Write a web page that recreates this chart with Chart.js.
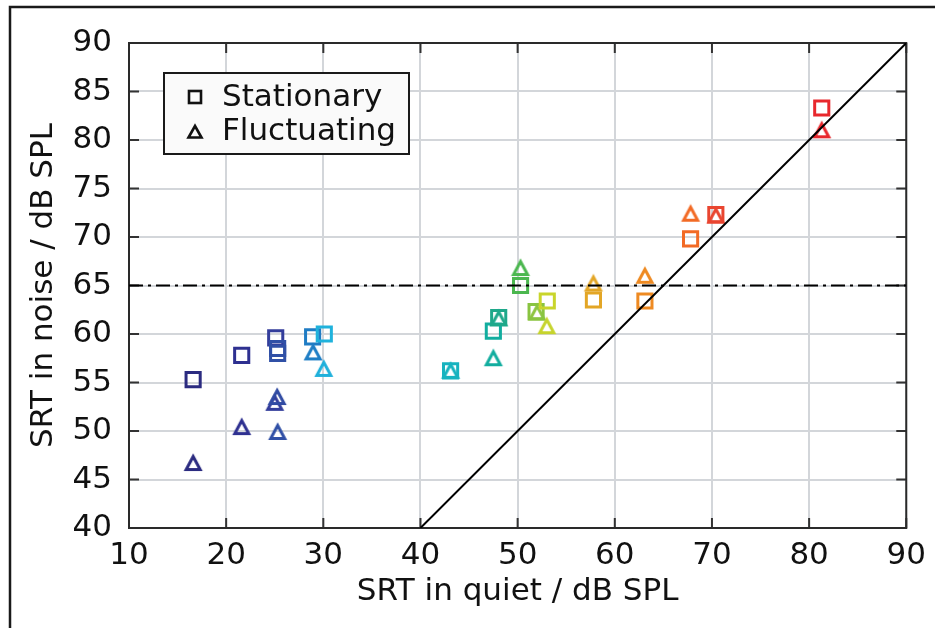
<!DOCTYPE html>
<html><head><meta charset="utf-8">
<script src="https://cdn.jsdelivr.net/npm/chart.js@4/dist/chart.umd.min.js"></script>
<style>html,body{margin:0;padding:0;background:#fff;}#wrap{position:relative;width:935px;height:628px;}</style>
</head><body><div id="wrap"><canvas id="c" width="935" height="628"></canvas></div>
<script>
// ---------- data ----------
const stationaryX = [16.6, 21.6, 25.1, 25.3, 25.3, 28.9, 30.1, 43.1, 47.5, 48.05, 50.3, 51.9, 53.05, 57.8, 63.1, 67.8, 70.4, 81.3];
const stationaryY = [55.3, 57.8, 59.6, 58.5, 58.0, 59.7, 60.0, 56.2, 60.3, 61.7, 65.0, 62.3, 63.4, 63.5, 63.4, 69.8, 72.3, 83.3];
const fluctuatingX = [16.6, 21.6, 25.0, 25.25, 25.3, 28.95, 30.05, 43.1, 47.5, 48.05, 50.3, 52.0, 53.0, 57.8, 63.1, 67.8, 70.4, 81.3];
const fluctuatingY = [46.7, 50.4, 52.9, 53.5, 49.9, 58.1, 56.4, 56.2, 57.5, 61.6, 66.8, 62.2, 60.8, 65.2, 66.0, 72.4, 72.2, 81.0];
const diagonalX = [40, 90];
const diagonalY = [40, 90];
const criterionX = [10, 90];
const criterionY = [65, 65];
const xTickValues = [10, 20, 30, 40, 50, 60, 70, 80, 90];
const yTickValues = [40, 45, 50, 55, 60, 65, 70, 75, 80, 85, 90];
const seriesNames = ['Stationary', 'Fluctuating'];
const xTitle = 'SRT in quiet / dB SPL';
const yTitle = 'SRT in noise / dB SPL';

// ---------- style ----------
const FONT = 'DejaVu Sans';
const FS = 31;
const colorStops = [
  [16.6,'#2b2b80'],[21.6,'#2e3090'],[25.1,'#333d9b'],[25.3,'#3050a6'],[28.9,'#1f7cc4'],
  [30.1,'#1fb2dc'],[43.1,'#17b3bf'],[47.5,'#12ad9f'],[48.05,'#1ea88a'],[50.3,'#4bb74f'],
  [52.0,'#8dc540'],[53.05,'#c9d52c'],[57.8,'#e3a626'],[63.1,'#ee8a22'],[67.8,'#f26a25'],
  [70.4,'#e94530'],[81.3,'#e8282d']
];
function hex2rgb(h){return [1,3,5].map(i=>parseInt(h.substr(i,2),16));}
function colorAt(v){
  if (v <= colorStops[0][0]) return colorStops[0][1];
  for (let i=1;i<colorStops.length;i++){
    const [x1,c1]=colorStops[i-1],[x2,c2]=colorStops[i];
    if (v<=x2){
      const t=(v-x1)/(x2-x1), a=hex2rgb(c1), b=hex2rgb(c2);
      const m=a.map((q,k)=>Math.round(q+(b[k]-q)*t));
      return `rgb(${m[0]},${m[1]},${m[2]})`;
    }
  }
  return colorStops[colorStops.length-1][1];
}
const toPoints = (xs, ys) => xs.map((x,i)=>({x, y: ys[i]}));

// triangle marker centred on its bounding box (like the reference)
const triCache = {};
function triangleMarker(color){
  if (triCache[color]) return triCache[color];
  const cv = document.createElement('canvas'); cv.width = 26; cv.height = 26;
  const g = cv.getContext('2d');
  g.strokeStyle = color; g.lineWidth = 3; g.lineJoin = 'miter';
  g.beginPath(); g.moveTo(13, 6.5); g.lineTo(20, 19.5); g.lineTo(6, 19.5); g.closePath(); g.stroke();
  triCache[color] = cv; return cv;
}

const framePlugin = {
  id: 'frame',
  beforeDraw(chart){
    const ctx = chart.ctx;
    ctx.save();
    ctx.strokeStyle = '#1a1a1a'; ctx.lineWidth = 2.5;
    ctx.beginPath(); ctx.moveTo(10, 628); ctx.lineTo(10, 7); ctx.lineTo(935, 7); ctx.stroke();
    ctx.restore();
  },
  beforeDatasetsDraw(chart){
    const {ctx, chartArea:a, scales:{x, y}} = chart;
    ctx.save();
    ctx.strokeStyle = '#333'; ctx.lineWidth = 2;
    const L = 10;
    ctx.beginPath();
    xTickValues.forEach(v => { const px = x.getPixelForValue(v);
      ctx.moveTo(px, a.bottom); ctx.lineTo(px, a.bottom - L);
      ctx.moveTo(px, a.top); ctx.lineTo(px, a.top + L); });
    yTickValues.forEach(v => { const py = y.getPixelForValue(v);
      ctx.moveTo(a.left, py); ctx.lineTo(a.left + L, py);
      ctx.moveTo(a.right, py); ctx.lineTo(a.right - L, py); });
    ctx.stroke();
    ctx.strokeStyle = '#2a2a2a'; ctx.lineWidth = 2;
    ctx.strokeRect(a.left, a.top, a.right - a.left, a.bottom - a.top);
    ctx.restore();
  },
  afterDraw(chart){
    const {ctx, chartArea:a} = chart;
    const bx = a.left + 35, by = a.top + 30, bw = 245, bh = 81;
    ctx.save();
    ctx.fillStyle = '#fafafa'; ctx.fillRect(bx, by, bw, bh);
    ctx.strokeStyle = '#1a1a1a'; ctx.lineWidth = 2; ctx.strokeRect(bx, by, bw, bh);
    ctx.lineWidth = 2.6; ctx.strokeStyle = '#111';
    ctx.strokeRect(bx + 25, by + 18, 12, 12);
    ctx.beginPath(); ctx.moveTo(bx + 31, by + 53); ctx.lineTo(bx + 37.5, by + 64.5); ctx.lineTo(bx + 24.5, by + 64.5); ctx.closePath(); ctx.stroke();
    ctx.fillStyle = '#111'; ctx.font = `${FS}px "${FONT}"`; ctx.textBaseline = 'middle'; ctx.textAlign = 'left';
    ctx.fillText(seriesNames[0], bx + 58, by + 25);
    ctx.fillText(seriesNames[1], bx + 58, by + 59);
    ctx.restore();
  }
};

new Chart(document.getElementById('c'), {
  type: 'scatter',
  data: {
    datasets: [
      { label: 'diagonal', type: 'line', data: toPoints(diagonalX, diagonalY), borderColor: '#000', borderWidth: 2, pointRadius: 0, fill: false, order: 0 },
      { label: 'criterion', type: 'line', data: toPoints(criterionX, criterionY), borderColor: '#000', borderWidth: 2, borderDash: [14, 5, 3, 5], pointRadius: 0, fill: false, order: 0 },
      { label: seriesNames[0], data: toPoints(stationaryX, stationaryY), pointStyle: 'rect', pointRadius: 10,
        pointBorderWidth: 3, pointBackgroundColor: 'rgba(0,0,0,0)', pointBorderColor: c => colorAt(c.raw ? c.raw.x : 50), order: 1 },
      { label: seriesNames[1], data: toPoints(fluctuatingX, fluctuatingY), pointRadius: 9,
        pointStyle: c => triangleMarker(colorAt(c.raw ? c.raw.x : 50)), order: 1 }
    ]
  },
  options: {
    responsive: false, animation: false, events: [], devicePixelRatio: 1,
    layout: { padding: { top: 43, right: 28, left: 0, bottom: 0 } },
    plugins: { legend: { display: false }, tooltip: { enabled: false } },
    scales: {
      x: { type: 'linear', min: 10, max: 90,
        afterFit: s => { s.height = 100; },
        afterBuildTicks: s => { s.ticks = xTickValues.map(v => ({value: v})); },
        ticks: { padding: 9, color: '#111', font: { family: FONT, size: FS } },
        grid: { color: '#d3d6da', lineWidth: 2, drawTicks: false },
        border: { display: false },
        title: { display: true, text: xTitle, color: '#111', font: { family: FONT, size: FS }, padding: { top: 0, bottom: 17 } } },
      y: { type: 'linear', min: 40, max: 90,
        afterFit: s => { s.width = 129; },
        afterBuildTicks: s => { s.ticks = yTickValues.map(v => ({value: v})); },
        ticks: { padding: 17, color: '#111', font: { family: FONT, size: FS } },
        grid: { color: '#d3d6da', lineWidth: 2, drawTicks: false },
        border: { display: false },
        title: { display: true, text: yTitle, color: '#111', font: { family: FONT, size: FS }, padding: { top: 25, bottom: 0 } } }
    }
  },
  plugins: [framePlugin]
});
</script></body></html>
